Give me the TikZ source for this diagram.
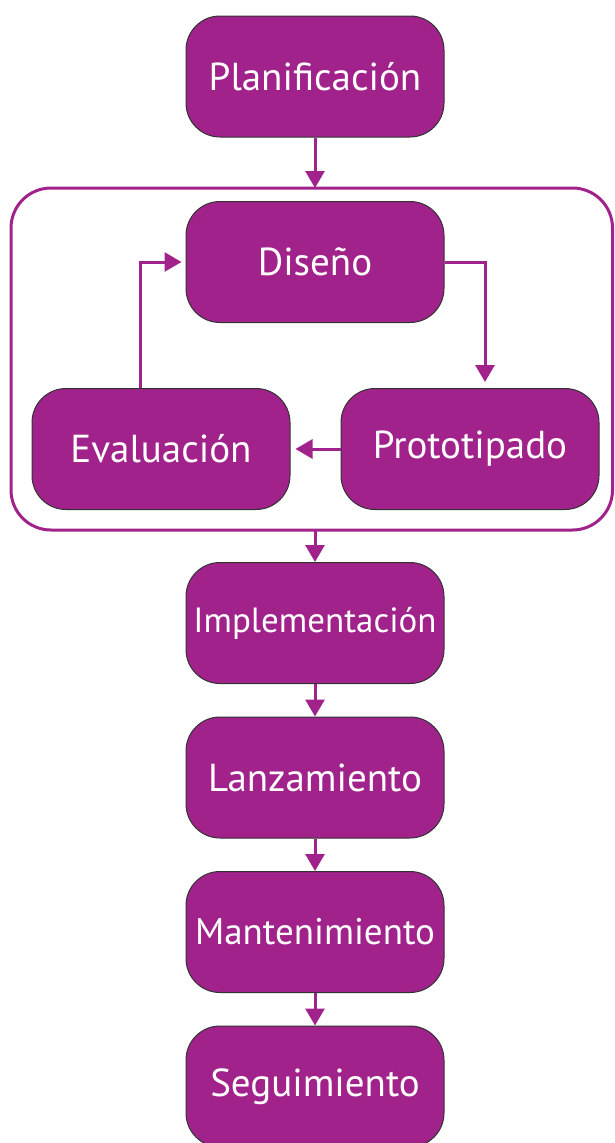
\documentclass[tikz,border=0pt]{standalone}
\usepackage{fontspec}
\setmainfont{PT Sans}
\usetikzlibrary{arrows.meta,positioning}
\definecolor{morado}{RGB}{160,34,138}

\begin{document}
\begin{tikzpicture}[x=1pt,y=-1pt,
		etapa/.style={rectangle, rounded corners=34pt, draw=black!80, line width=1pt, fill=morado,
			minimum width=258pt, minimum height=121pt, inner sep=1pt, text=white,
			font=\fontsize{39}{44}\selectfont},
		flecha/.style={draw=morado, line width=3pt, -{Triangle[width=19pt,length=17pt]}}]
		\useasboundingbox (0,0) rectangle (614,1143);
		% grupo iterativo
		\draw[morado, line width=3pt, rounded corners=40pt] (11,188) rectangle (612.5,530);
		\coordinate (grupoN) at (315,188);
		\coordinate (grupoS) at (315,530);
		
		\node[etapa] (plan) at (315,76.5) {Planificación};
		\node[etapa] (diseno) at (315,262) {Diseño};
		\node[etapa] (eval) at (161,449) {\raisebox{-2pt}{Evaluación}};
		\node[etapa] (proto) at (470,449) {\raisebox{2pt}{Prototipado}};
		\node[etapa, font=\fontsize{35}{40}\selectfont] (impl) at (315,623) {Implementación};
		\node[etapa] (lanz) at (315,777.5) {Lanzamiento};
		\node[etapa, font=\fontsize{37}{42}\selectfont] (mant) at (315,932) {Mantenimiento};
		\node[etapa] (segu) at (315,1086.5) {Seguimiento};
		
		\draw[flecha] (plan) -- (grupoN);
		\draw[flecha] (diseno.east) -| ([xshift=15pt,yshift=6pt]proto.north);
		\draw[flecha] (proto.west) -- ([xshift=5pt]eval.east);
		\draw[flecha] ([xshift=-21pt]eval.north) |- ([xshift=-4pt]diseno.west);
		\draw[flecha] (grupoS) -- (impl);
		\draw[flecha] (impl) -- (lanz);
		\draw[flecha] (lanz) -- (mant);
		\draw[flecha] (mant) -- (segu);
	\end{tikzpicture}
\end{document}
